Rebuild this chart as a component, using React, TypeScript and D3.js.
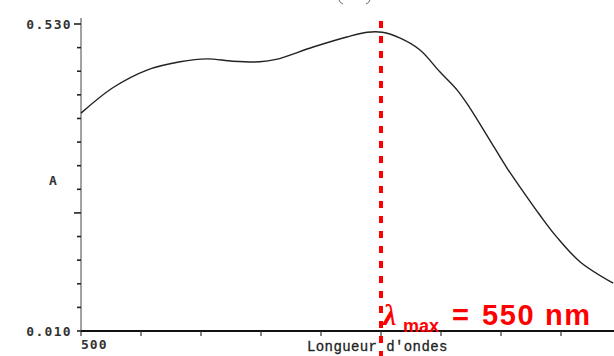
import { useMemo } from 'react';
import * as d3 from 'd3';

// spectrum (nm, absorbance)
const wavelengths = [500, 505.3, 511, 516.5, 521, 525.3, 529.8, 532.5, 538.7, 544.3, 547.7, 550.2, 553.2, 556.5, 559.8, 562.7, 564.8, 567.8, 571, 573.7, 576.5, 579.3, 583.2, 588.7];
const absorbance = [0.379, 0.422, 0.452, 0.466, 0.471, 0.467, 0.466, 0.470, 0.491, 0.508, 0.516, 0.516, 0.506, 0.486, 0.449, 0.418, 0.388, 0.339, 0.286, 0.246, 0.206, 0.169, 0.127, 0.091];
const yTicks = d3.range(0, 14).map(k => 0.01 + 0.04 * k);
const xTicks = d3.range(500, 600, 10);
const yLabels = ['0.530', '0.010'];
const xLabel = '500';
const lambdaMax = 550;

const W = 614;
const H = 356;

const App = () => {
    const x = d3.scaleLinear().domain([500, 550]).range([81, 381]);
    const y = d3.scaleLinear().domain([0.01, 0.53]).range([331, 24]);

    const path = useMemo(() => {
        const pts: [number, number][] = wavelengths.map((w, i) => [w, absorbance[i]]);
        return d3.line<[number, number]>()
            .x(d => x(d[0]))
            .y(d => y(d[1]))
            .curve(d3.curveCatmullRom.alpha(0.5))(pts);
    }, []);

    const mono = '"DejaVu Sans Mono", monospace';
    const courier = '"Liberation Mono", monospace';
    const arial = '"Liberation Sans", Arial, sans-serif';

    return (
        <svg width={W} height={H} style={{ position: 'absolute', left: 0, top: 0, background: '#fff' }}>
            <rect width={W} height={H} fill="#fff" />
            {/* bottoms of the cut-off panel letter's brackets */}
            <path d="M339,0 Q340,3 343,4" fill="none" stroke="#666" strokeWidth={1} />
            <path d="M370,0 Q369,3 366,4" fill="none" stroke="#666" strokeWidth={1} />

            {/* y axis */}
            <line x1={81} x2={81} y1={18} y2={331} stroke="#444" strokeWidth={1} />
            {yTicks.map((t, i) => (
                <line key={i} x1={i === 13 || i === 5 ? 74 : 77} x2={81} y1={y(t)} y2={y(t)} stroke="#222" strokeWidth={1.6} />
            ))}
            <text x={72} y={y(0.53)} dy="0.35em" textAnchor="end" fontFamily={mono} fontSize={13} fontWeight="bold" fill="#333" letterSpacing={1.3}>{yLabels[0]}</text>
            <text x={72} y={y(0.01)} dy="0.35em" textAnchor="end" fontFamily={mono} fontSize={13} fontWeight="bold" fill="#333" letterSpacing={1.3}>{yLabels[1]}</text>
            <text x={53} y={180} dy="0.35em" textAnchor="middle" fontFamily={mono} fontSize={13} fontWeight="bold" fill="#333">A</text>

            {/* x axis */}
            <line x1={81} x2={W} y1={331} y2={331} stroke="#111" strokeWidth={2} />
            {xTicks.map(t => (
                <line key={t} x1={x(t)} x2={x(t)} y1={331} y2={336} stroke="#333" strokeWidth={1.2} />
            ))}
            <text x={81} y={349} fontFamily={mono} fontSize={13} fontWeight="bold" fill="#333" letterSpacing={1}>{xLabel}</text>
            <text x={307} y={351} fontFamily={courier} fontSize={14} fill="#222" stroke="#222" strokeWidth={0.3} letterSpacing={0.4}>Longueur d'ondes</text>

            {/* spectrum */}
            <path d={path ?? ''} fill="none" stroke="#222" strokeWidth={1.4} />

            {/* lambda max marker */}
            <line x1={x(lambdaMax)} x2={x(lambdaMax)} y1={21} y2={H} stroke="#ff0000" strokeWidth={4} strokeDasharray="7 8" />
            <text x={383} y={325} fontFamily='"Liberation Serif", serif' fontStyle="italic" fontWeight="bold" fontSize={30} fill="#ff0000">λ</text>
            <text x={403} y={332} fontFamily={arial} fontWeight="bold" fontSize={18} fill="#ff0000">max</text>
            <text x={452} y={325} fontFamily={arial} fontWeight="bold" fontSize={29} fill="#ff0000">=</text>
            <text x={482} y={325} fontFamily={arial} fontWeight="bold" fontSize={29} fill="#ff0000" textLength={108}>550 nm</text>
        </svg>
    );
};

export default App;
